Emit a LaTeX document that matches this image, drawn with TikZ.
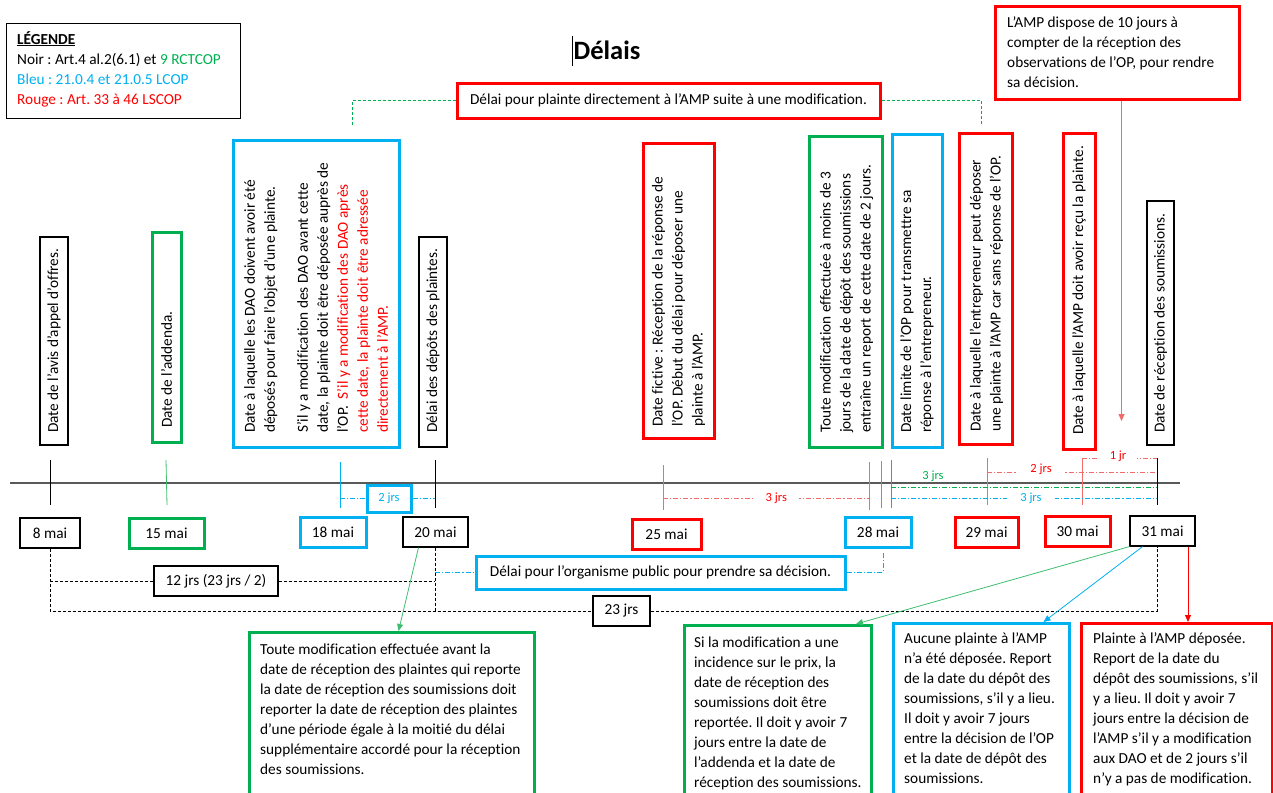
\documentclass[tikz,border=0pt]{standalone}
\usepackage{fontspec}
\setmainfont[Ligatures=NoCommon]{Carlito}
\frenchspacing
\usetikzlibrary{arrows.meta}
\definecolor{cred}{HTML}{FF0000}
\definecolor{cgreen}{HTML}{00B050}
\definecolor{cblue}{HTML}{00B0F0}
\definecolor{cgray}{HTML}{595959}
\definecolor{lred}{HTML}{F26B6B}
\definecolor{lgreen}{HTML}{3DBE6E}
\newcommand\fs{\fontsize{15.3}{20}\selectfont}
\newcommand\fsm{\fontsize{12.5}{14}\selectfont}
\newcommand\fst{\fontsize{26.5}{30}\selectfont\bfseries}
\tikzset{
  thinbox/.style={draw=black, line width=1.2pt, inner sep=0pt},
  thickbox/.style={draw=#1, line width=3pt, inner sep=0pt},
  txt/.style={font=\fs, inner sep=0pt, align=left, anchor=north west},
  vtxt/.style={font=\fs, inner sep=0pt, align=left, rotate=90, anchor=west},
  datebox/.style={font=\fs, minimum height=30pt},
  lab/.style={font=\fsm, inner sep=1pt},
  tk/.style={line width=0.8pt},
  dd/.style={line width=0.8pt, dash pattern=on 5pt off 2pt on 1.2pt off 2pt},
  bdash/.style={line width=0.8pt, dash pattern=on 3pt off 2pt},
  gdash/.style={line width=0.8pt, cgreen, dash pattern=on 3pt off 2pt},
  arr/.style={line width=0.8pt, -{Triangle[length=7pt,width=6pt]}},
}
\begin{document}
\begin{tikzpicture}[x=1pt,y=-1pt]
\useasboundingbox (0,0) rectangle (1273,792);
\clip (0,0) rectangle (1273,792);

% legend
\node[thinbox, anchor=north west, minimum width=234pt, minimum height=95pt] (leg) at (6,23) {};
\node[txt] (legt) at (17,31) {\textbf{\underline{LÉGENDE}}\\Noir : Art.4 al.2(6.1) et {\color{cgreen}9 RCTCOP}\\{\color{cblue}Bleu : 21.0.4 et 21.0.5 LCOP}\\{\color{cred}Rouge : Art. 33 à 46 LSCOP}};

% title
\node[font=\fst, inner sep=0pt] (title) at (607,50) {Délais};
\draw[line width=0.7pt] (572,36) -- (572,66);

% top red box with green dashed bracket
\node[thickbox=cred, minimum width=423pt, minimum height=35pt, font=\fs] (tbox) at (668.5,100.5) {Délai pour plainte directement à l’AMP suite à une modification.};
\draw[gdash] (352,125) |- (tbox.west);
\draw[gdash] (tbox.east) -| (981,125);

% top right box
\node[thickbox=cred, anchor=north west, minimum width=244pt, minimum height=93pt] (amp) at (994,5) {};
\node[txt] (ampt) at (1007,16.5) {L’AMP dispose de 10 jours à\\compter de la réception des\\observations de l’OP, pour rendre\\sa décision.};
\draw[arr, lred] ([xshift=4pt]amp.south) -- ++(0,320);

% vertical boxes
\node[thinbox, rotate=90, minimum width=208pt, minimum height=28pt] (v1) at (54,341) {};
\node[vtxt] (v1t) at (54,433) {Date de l’avis d’appel d’offres.};

\node[thickbox=cgreen, rotate=90, minimum width=210pt, minimum height=29pt] (v2) at (166.5,337) {};
\node[vtxt] (v2t) at (166.5,428) {Date de l’addenda.};

\node[thickbox=cblue, rotate=90, minimum width=307pt, minimum height=166pt] (v3) at (316,293.5) {};
\node[vtxt] (v3t) at (316,433) {Date à laquelle les DAO doivent avoir été\\déposés pour faire l’objet d’une plainte.\\[13pt]S’il y a modification des DAO avant cette\\date, la plainte doit être déposée auprès de\\l’OP.\ \ {\color{cred}S’il y a modification des DAO après}\\{\color{cred}cette date, la plainte doit être adressée}\\{\color{cred}directement à l’AMP.}};

\node[thinbox, rotate=90, minimum width=210pt, minimum height=28pt] (v4) at (433,342) {};
\node[vtxt] (v4t) at (433,433) {Délai des dépôts des plaintes.};

\node[thickbox=cred, rotate=90, minimum width=295pt, minimum height=71pt] (v5) at (678.5,290.5) {};
\node[vtxt] (v5t) at (678.5,427) {Date fictive : Réception de la réponse de\\l’OP. Début du délai pour déposer une\\plainte à l’AMP.};

\node[thickbox=cgreen, rotate=90, minimum width=311pt, minimum height=73pt] (v6) at (845.5,291.5) {};
\node[vtxt] (v6t) at (846.5,433) {Toute modification effectuée à moins de 3\\jours de la date de dépôt des soumissions\\entraîne un report de cette date de 2 jours.};

\node[thickbox=cblue, rotate=90, minimum width=313pt, minimum height=50pt] (v7) at (917,290.5) {};
\node[vtxt] (v7t) at (917,433) {Date limite de l’OP pour transmettre sa\\réponse à l’entrepreneur.};

\node[thickbox=cred, rotate=90, minimum width=311pt, minimum height=53pt] (v8) at (985.5,288.5) {};
\node[vtxt] (v8t) at (986.5,432) {Date à laquelle l’entrepreneur peut déposer\\une plainte à l’AMP car sans réponse de l’OP.};

\node[thickbox=cred, rotate=90, minimum width=316pt, minimum height=32pt] (v9) at (1079,291) {};
\node[vtxt] (v9t) at (1079,435) {Date à laquelle l’AMP doit avoir reçu la plainte.};

\node[thinbox, rotate=90, minimum width=244pt, minimum height=27pt] (v10) at (1160.5,323) {};
\node[vtxt] (v10t) at (1160.5,433) {Date de réception des soumissions.};

% timeline
\draw[line width=1.6pt, cgray] (10,483) -- (1180,483);
\draw[tk] (50,460) -- (50,505);
\draw[tk, lgreen] (166,460) -- (167,505);
\draw[tk, cblue] (340,462) -- (340,508);
\draw[tk] (435,460) -- (435,508);
\draw[tk, lred] (663,465) -- (663,510);
\draw[tk, lred] (869,462) -- (869,510);
\draw[tk, lgreen] (881,461) -- (881,508);
\draw[tk, cblue] (891,460) -- (891,508);
\draw[tk, lred] (987,458) -- (987,505);
\draw[tk, lred] (1082,458) -- (1082,505);
\draw[tk] (1157,458) -- (1157,505);

% dimension lines
\node[thickbox=cblue, minimum width=44pt, minimum height=27pt, font=\fsm, text=cblue] (j2) at (389,498.5) {2 jrs};
\draw[dd, cblue] (340,498.5) -- (j2.west);
\draw[dd, cblue] (j2.east) -- (435,498.5);
\draw[dd, lred] (663,498) -- (869,498) node[lab, pos=0.55, fill=white, text=cred, inner xsep=12pt] (r3) {3 jrs};
\draw[dd, cgreen] (891,487) -- (1157,487);
\node[lab, text=cgreen] (g3) at (933,476) {3 jrs};
\draw[dd, cblue] (891,498) -- (1157,498) node[lab, pos=0.526, fill=white, text=cblue, inner xsep=13pt] (b3) {3 jrs};
\draw[dd, lred] (987,472) -- (1157,472) node[lab, pos=0.318, fill=white, text=cred, inner xsep=13pt, yshift=3pt] (r2) {2 jrs};
\draw[dd, lred] (1082,458) -- (1157,458) node[lab, pos=0.48, fill=white, text=cred, inner xsep=11pt, yshift=2pt] (r1) {1 jr};

% date boxes
\node[thinbox, datebox, minimum width=60pt] (d8) at (50,533) {8 mai};
\node[thickbox=cgreen, datebox, minimum width=75pt] (d15) at (166.5,533.5) {15 mai};
\node[thickbox=cblue, datebox, minimum width=66pt] (d18) at (333,532) {18 mai};
\node[thinbox, datebox, minimum width=65pt] (d20) at (435.5,532) {20 mai};
\node[thickbox=cred, datebox, minimum width=69pt] (d25) at (666.5,534) {25 mai};
\node[thickbox=cblue, datebox, minimum width=66pt] (d28) at (878,532) {28 mai};
\node[thickbox=cred, datebox, minimum width=63pt] (d29) at (986.5,532) {29 mai};
\node[thickbox=cred, datebox, minimum width=65pt] (d30) at (1077.5,531) {30 mai};
\node[thinbox, datebox, minimum width=65pt] (d31) at (1162.5,531) {31 mai};

% delay boxes below
\node[thickbox=cblue, minimum width=369pt, minimum height=33pt, font=\fs] (org) at (660.5,572.5) {Délai pour l’organisme public pour prendre sa décision.};
\draw[dd, cblue] (435,572.5) -- (org.west);
\draw[dd, cblue] (org.east) -| (883,553);

\node[thinbox, minimum width=124pt, minimum height=30pt, font=\fs] (j12) at (216,581) {12 jrs (23 jrs / 2)};
\node[thinbox, minimum width=57pt, minimum height=30pt, font=\fs] (j23) at (621.5,611) {23 jrs};
\draw[bdash] (d8.south) |- (j23.west);
\draw[bdash] (j23.east) -| ([xshift=-5.5pt]d31.south);
\draw[bdash] (50,581) -- (j12.west);
\draw[bdash] (j12.east) -- (435,581);
\draw[bdash] ([xshift=-0.5pt]d20.south) -- (435,611);

% bottom boxes
\node[thickbox=cgreen, anchor=north west, minimum width=285pt, minimum height=200pt] (gbl) at (248,631) {};
\node[txt] (gblt) at (260,644) {Toute modification effectuée avant la\\date de réception des plaintes qui reporte\\la date de réception des soumissions doit\\reporter la date de réception des plaintes\\d’une période égale à la moitié du délai\\supplémentaire accordé pour la réception\\des soumissions.};

\node[thickbox=cgreen, anchor=north west, minimum width=187pt, minimum height=200pt] (gbr) at (683,624) {};
\node[txt] (gbrt) at (694,636.5) {Si la modification a une\\incidence sur le prix, la\\date de réception des\\soumissions doit être\\reportée. Il doit y avoir 7\\jours entre la date de\\l’addenda et la date de\\réception des soumissions.};

\node[thickbox=cblue, anchor=north west, minimum width=176pt, minimum height=200pt] (bb) at (892,622) {};
\node[txt] (bbt) at (904,632.5) {Aucune plainte à l’AMP\\n’a été déposée. Report\\de la date du dépôt des\\soumissions, s’il y a lieu.\\Il doit y avoir 7 jours\\entre la décision de l’OP\\et la date de dépôt des\\soumissions.};

\node[thickbox=cred, anchor=north west, minimum width=191pt, minimum height=200pt] (rb) at (1080,622) {};
\node[txt] (rbt) at (1093,632.5) {Plainte à l’AMP déposée.\\Report de la date du\\dépôt des soumissions, s’il\\y a lieu. Il doit y avoir 7\\jours entre la décision de\\l’AMP s’il y a modification\\aux DAO et de 2 jours s’il\\n’y a pas de modification.};

% arrows
\draw[arr, lgreen] ([xshift=-17pt]d20.south) -- ([xshift=6.5pt]gbl.north);
\draw[arr, lgreen] (d31.south west) -- ([xshift=-17pt]gbr.north east);
\draw[arr, cblue] ([xshift=-20pt]d31.south) -- ([xshift=62pt]bb.north);
\draw[arr, cred] ([xshift=25.5pt]d31.south) -- ([xshift=25.5pt]d31.south |- rb.north);
\end{tikzpicture}
\end{document}
